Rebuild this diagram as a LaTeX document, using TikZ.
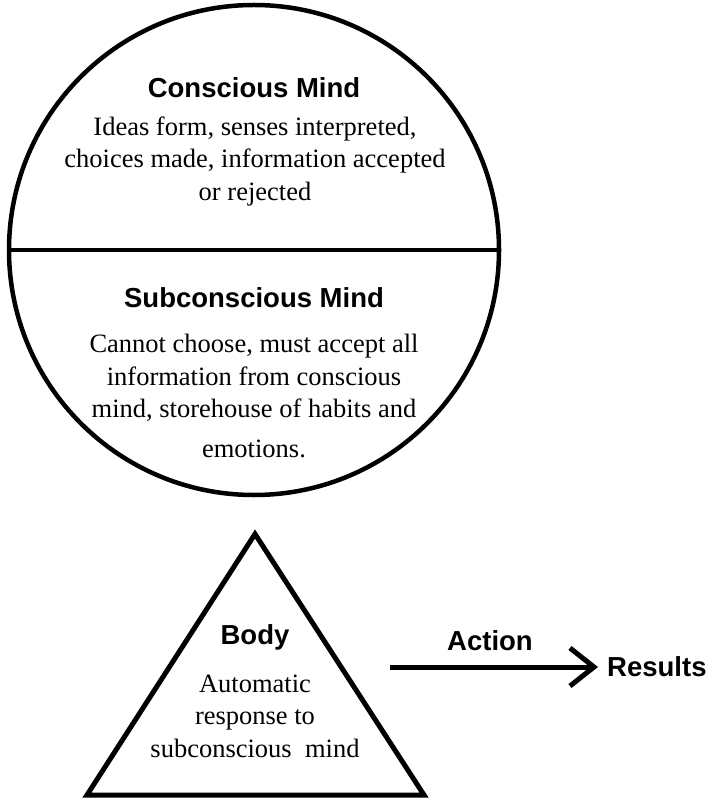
\documentclass[tikz,border=0pt]{standalone}
\usepackage{fontspec}
\setmainfont{Liberation Serif}
\setsansfont{Liberation Sans}
\usetikzlibrary{arrows.meta}
\begin{document}
\begin{tikzpicture}[x=1pt,y=-1pt,
  title/.style={font=\sffamily\bfseries\fontsize{27.5}{32}\selectfont, inner sep=0pt},
  bodytext/.style={font=\fontsize{26.5}{32.5}\selectfont, align=center, inner sep=0pt},
  thick line/.style={line width=4.5pt}]
\useasboundingbox (0,0) rectangle (712,799);
% circle
\node[circle, draw, thick line, minimum size=490pt, inner sep=0pt] (mind) at (254,250) {};
\draw[line width=4pt] (mind.west) -- (mind.east);
\node[title] (ctitle) at (254,88) {Conscious Mind};
\node[bodytext] (cbody) at (255,161) {Ideas form, senses interpreted,\\choices made, information accepted\\or rejected};
\node[title] (stitle) at (254,298) {Subconscious Mind};
\node[bodytext] (sbody) at (254,396) {Cannot choose, must accept all\\information from conscious\\mind, storehouse of habits and\\[7pt]emotions.};
% triangle
\coordinate (apex) at (255,534);
\coordinate (bl) at (87,795);
\coordinate (br) at (424,795);
\draw[line width=5pt, line join=miter] (apex) -- (br) -- (bl) -- cycle;
\node[title] (body) at (255,637) {Body};
\node[bodytext] (bbody) at (255,716) {Automatic\\response to\\subconscious~ mind};
% arrow
\coordinate (astart) at (390,667);
\node[title, anchor=west] (results) at (607,667) {Results};
\draw[line width=5pt, -{Straight Barb[length=24pt,width=38pt,line width=5pt]}] (astart) -- ([xshift=-9pt]results.west);
\node[title] (action) at (490,641) {Action};
\end{tikzpicture}
\end{document}
